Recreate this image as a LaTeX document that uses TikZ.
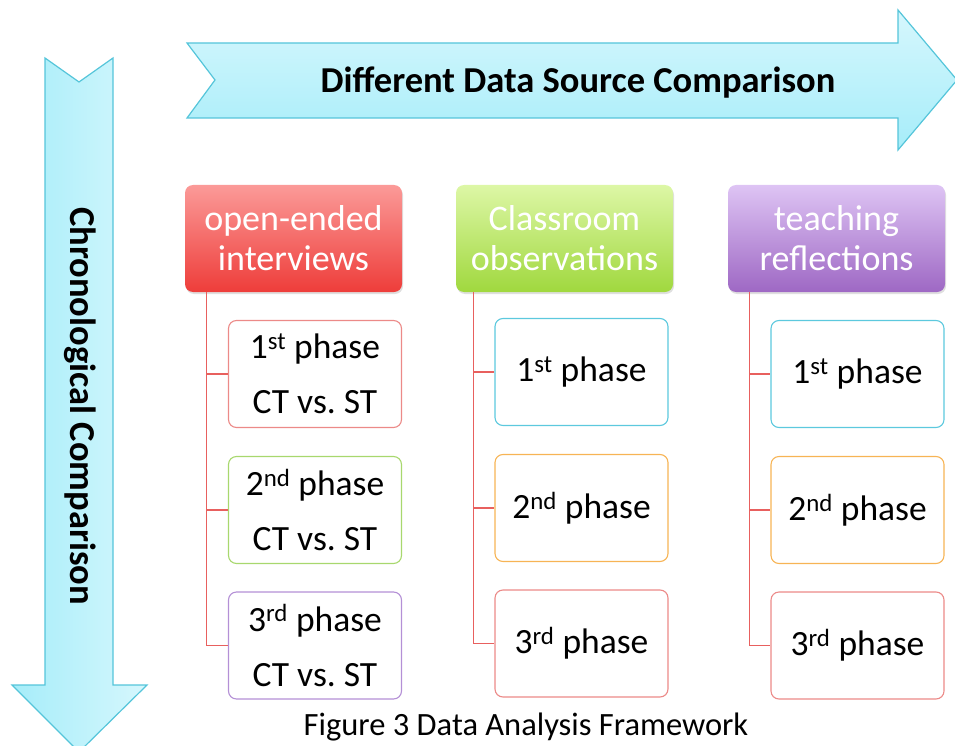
\documentclass[tikz,border=0pt]{standalone}
\usepackage{fontspec}
\setmainfont{Carlito}
\usetikzlibrary{calc,shadows}
\definecolor{arrfill1}{HTML}{D6F7FD}
\definecolor{arrfill2}{HTML}{A6EDF9}
\definecolor{arrline}{HTML}{55C5DA}
\definecolor{redtop}{HTML}{FB9A98}
\definecolor{redbot}{HTML}{EE3D3A}
\definecolor{greentop}{HTML}{DDF7A6}
\definecolor{greenbot}{HTML}{A0D83E}
\definecolor{purptop}{HTML}{DEC4F4}
\definecolor{purpbot}{HTML}{9E68C4}
\definecolor{bred}{HTML}{EC8A88}
\definecolor{bgreen}{HTML}{A8D86E}
\definecolor{bpurp}{HTML}{B490D6}
\definecolor{bcyan}{HTML}{5CC9DE}
\definecolor{borange}{HTML}{F7B455}
\definecolor{connred}{HTML}{E8605E}
\tikzset{
  bigarrow/.style={draw=arrline, line width=1.2pt},
  header/.style={rounded corners=8pt, minimum width=217pt, minimum height=107pt, text=white,
    align=center, font=\fontsize{36}{40}\selectfont, inner sep=0pt,
    drop shadow={shadow xshift=1pt, shadow yshift=-2pt, opacity=0.25}},
  child/.style={draw, fill=white, rounded corners=8pt, minimum width=173pt, minimum height=107pt,
    line width=1.1pt, align=center, font=\fontsize{35.5}{55}\selectfont, inner sep=0pt},
  conn/.style={draw=connred, line width=1.2pt},
  arrowtext/.style={font=\bfseries\fontsize{36.5}{40}\selectfont, inner sep=0pt}
}
\begin{document}
\frenchspacing
\begin{tikzpicture}[x=1pt,y=-1pt]
\useasboundingbox (0,0) rectangle (955,746);
% top arrow
\draw[bigarrow, top color=arrfill1, bottom color=arrfill2] (187,43) -- (898,43) -- (898,10) -- (957,80) -- (898,150) -- (898,118) -- (187,118) -- (215,80) -- cycle;
\node[arrowtext] (ta) at (578,83) {Different Data Source Comparison};
% left arrow
\draw[bigarrow, left color=arrfill2, right color=arrfill1] (45,58) -- (79,82) -- (113,58) -- (113,685) -- (147,685) -- (79,752) -- (12,685) -- (45,685) -- cycle;
\node[arrowtext, rotate=-90] (la) at (80,406) {Chronological Comparison};
% headers
\node[header, top color=redtop, bottom color=redbot] (h1) at (293.5,238.5) {open-ended\\interviews};
\node[header, top color=greentop, bottom color=greenbot] (h2) at (564.5,238.5) {Classroom\\observations};
\node[header, top color=purptop, bottom color=purpbot] (h3) at (836.5,238.5) {teaching\\reflections};
% column 1
\node[child, draw=bred] (c11) at (315,374) {1\textsuperscript{st} phase\\CT vs. ST};
\node[child, draw=bgreen] (c12) at (315,510) {2\textsuperscript{nd} phase\\CT vs. ST};
\node[child, draw=bpurp] (c13) at (315,645.5) {3\textsuperscript{rd} phase\\CT vs. ST};
% column 2
\node[child, draw=bcyan] (c21) at (581.5,372) {1\textsuperscript{st} phase};
\node[child, draw=borange] (c22) at (581.5,508) {2\textsuperscript{nd} phase};
\node[child, draw=bred] (c23) at (581.5,643.5) {3\textsuperscript{rd} phase};
% column 3
\node[child, draw=bcyan] (c31) at (857.5,374) {1\textsuperscript{st} phase};
\node[child, draw=borange] (c32) at (857.5,510) {2\textsuperscript{nd} phase};
\node[child, draw=bred] (c33) at (857.5,645.5) {3\textsuperscript{rd} phase};
% connectors
\coordinate (s1) at ($(h1.south west)+(22,0)$);
\coordinate (s2) at ($(h2.south west)+(18,0)$);
\coordinate (s3) at ($(h3.south west)+(22,0)$);
\draw[conn] (s1) |- (c13.west);
\draw[conn] (s1) |- (c12.west);
\draw[conn] (s1) |- (c11.west);
\draw[conn] (s2) |- (c23.west);
\draw[conn] (s2) |- (c22.west);
\draw[conn] (s2) |- (c21.west);
\draw[conn] (s3) |- (c33.west);
\draw[conn] (s3) |- (c32.west);
\draw[conn] (s3) |- (c31.west);
% caption
\node[font=\fontsize{32.5}{36}\selectfont, inner sep=0pt] (cap) at (526,727) {Figure 3 Data Analysis Framework};
\end{tikzpicture}
\end{document}
